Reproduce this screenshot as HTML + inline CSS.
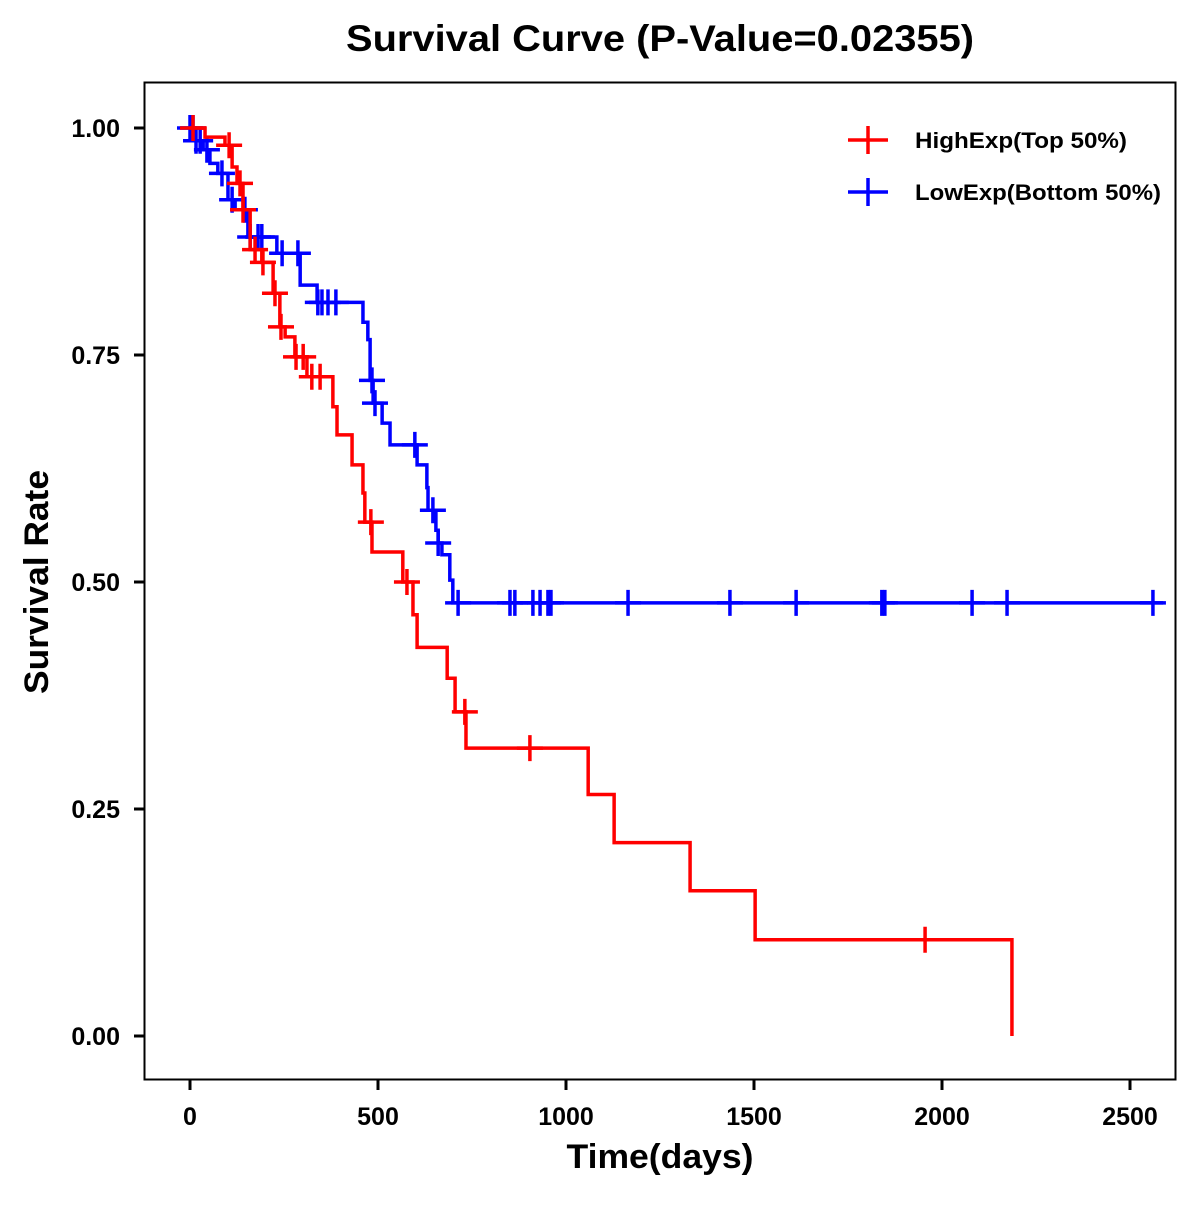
<!DOCTYPE html>
<html><head><meta charset="utf-8"><style>
body{margin:0;background:#fff}
svg text{font-family:"Liberation Sans",Arial,sans-serif;font-weight:bold;fill:#000}
</style></head><body>
<svg id="chart" width="1200" height="1200" xmlns="http://www.w3.org/2000/svg">
<rect x="0" y="0" width="1200" height="1200" fill="#fff"/>
<text x="660" y="51" font-size="37" text-anchor="middle" textLength="628" lengthAdjust="spacingAndGlyphs">Survival Curve (P-Value=0.02355)</text>
<rect x="144.5" y="82.5" width="1031" height="997" fill="none" stroke="#000" stroke-width="2"/>
<g id="axes"></g>
<g id="series"></g>
<text x="660" y="1168" font-size="34" text-anchor="middle" textLength="187" lengthAdjust="spacingAndGlyphs">Time(days)</text>
<text transform="translate(48,582) rotate(-90)" font-size="34" text-anchor="middle" textLength="224" lengthAdjust="spacingAndGlyphs">Survival Rate</text>
<g>
 <line x1="848" y1="140" x2="888" y2="140" stroke="#f00" stroke-width="3.5"/>
 <line x1="868" y1="126" x2="868" y2="154" stroke="#f00" stroke-width="3.5"/>
 <text x="915" y="148" font-size="22" textLength="212" lengthAdjust="spacingAndGlyphs">HighExp(Top 50%)</text>
 <line x1="848" y1="192" x2="888" y2="192" stroke="#00f" stroke-width="3.5"/>
 <line x1="868" y1="178" x2="868" y2="206" stroke="#00f" stroke-width="3.5"/>
 <text x="915" y="200" font-size="22" textLength="246" lengthAdjust="spacingAndGlyphs">LowExp(Bottom 50%)</text>
</g>
</svg>
<script>
const xTicks=[0,500,1000,1500,2000,2500];
const yTicks=[0,0.25,0.5,0.75,1.0];
const yTickLabels=["0.00","0.25","0.50","0.75","1.00"];
const highTimes=[40,93,112,125,141,160,191,221,239,253,279,311,380,391,431,460,465,484,566,593,604,684,705,734,1059,1128,1330,1503,2186];
const highSurv=[0.990,0.981,0.957,0.939,0.910,0.866,0.852,0.818,0.781,0.770,0.748,0.726,0.693,0.662,0.629,0.598,0.566,0.533,0.500,0.464,0.428,0.394,0.357,0.317,0.266,0.213,0.160,0.106,0];
const highCensor=[8,104,133,141,173,194,226,242,282,301,324,346,481,577,731,904,1955];
const highEnd=2186;
const lowTimes=[13,35,53,74,101,120,154,231,293,338,460,473,479,487,511,532,604,630,633,654,660,670,691,699];
const lowSurv=[0.986,0.976,0.961,0.950,0.921,0.910,0.880,0.862,0.827,0.808,0.786,0.767,0.722,0.697,0.675,0.651,0.629,0.604,0.579,0.557,0.543,0.530,0.502,0.477];
const lowCensor=[0,8,16,27,45,85,112,146,160,181,191,245,287,340,351,367,388,484,492,598,646,660,713,851,864,912,931,952,960,1165,1436,1612,1840,1848,2080,2173,2561];
const lowEnd=2588;

const X=t=>190+t*0.376;
const Y=s=>1036-s*908;
const NS="http://www.w3.org/2000/svg";
function mk(tag,attrs,parent){const e=document.createElementNS(NS,tag);for(const k in attrs)e.setAttribute(k,attrs[k]);parent.appendChild(e);return e;}
const axes=document.getElementById('axes');
xTicks.forEach(t=>{
 const l=mk('line',{x1:X(t),x2:X(t),y1:1080,y2:1090,stroke:'#000','stroke-width':3},axes);
 
 
 const tx=mk('text',{x:X(t),y:1125,'font-size':25,'text-anchor':'middle'},axes);
 tx.textContent=String(t);
 
 
});
yTicks.forEach((v,i)=>{
 const l=mk('line',{x1:134,x2:144,y1:Y(v),y2:Y(v),stroke:'#000','stroke-width':3},axes);
 
 
 const tx=mk('text',{x:120,y:Y(v)+9,'font-size':25,'text-anchor':'end'},axes);
 tx.textContent=yTickLabels[i];
 
 
});
function survAt(times,surv,t){let s=1;for(let i=0;i<times.length;i++){if(times[i]<=t)s=surv[i];}return s;}
const series=document.getElementById('series');
function draw(times,surv,censor,end,color,name){
 let d=`M${X(0)},${Y(1)}`;
 times.forEach((t,i)=>{d+=` H${X(t)} V${Y(surv[i])}`;});
 if(end>times[times.length-1]) d+=` H${X(end)}`;
 const p=mk('path',{d:d,fill:'none',stroke:color,'stroke-width':3.5},series);
 
 
 censor.forEach(t=>{
  const cx=X(t),cy=Y(survAt(times,surv,t));
  const g=mk('path',{d:`M${cx-13},${cy} H${cx+13} M${cx},${cy-13} V${cy+13}`,stroke:color,'stroke-width':3.5,fill:'none'},series);
  
  
 });
}
draw(lowTimes,lowSurv,lowCensor,lowEnd,'#00f','low-exp');
draw(highTimes,highSurv,highCensor,highEnd,'#f00','high-exp');
</script>
</body></html>
